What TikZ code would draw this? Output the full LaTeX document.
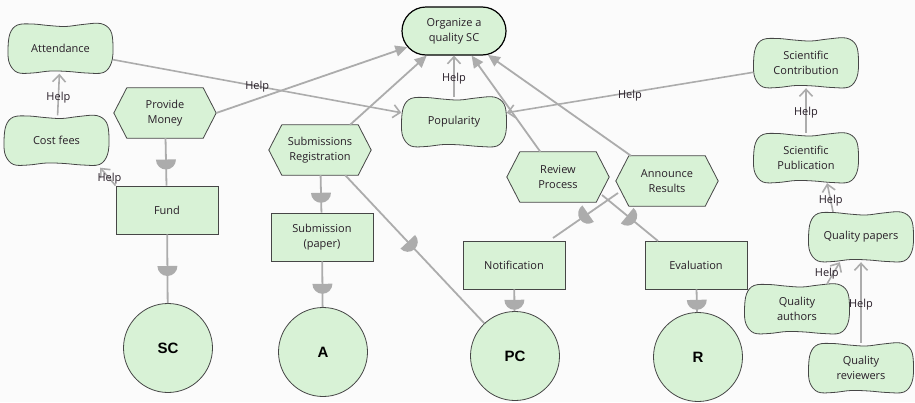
\documentclass[tikz,border=0pt]{standalone}
\usepackage{fontspec}
\setmainfont{Open Sans}
\newfontfamily\actorfont{Liberation Sans}
\usetikzlibrary{arrows.meta,shapes.misc,backgrounds,calc,decorations.markings}

\definecolor{leaf}{RGB}{216,242,214}
\definecolor{edgegray}{RGB}{70,70,70}
\definecolor{linkgray}{RGB}{172,172,172}
\definecolor{ink}{RGB}{40,30,40}
\definecolor{paper}{RGB}{251,251,251}

\tikzset{
  lbl/.style={text=ink, font=\fontsize{11}{15}\selectfont, align=center, inner sep=0pt},
  sgline/.style={draw=edgegray, line width=0.8pt, fill=leaf},
  taskline/.style={draw=edgegray, line width=0.8pt, fill=leaf},
  goal/.style={lbl, rounded rectangle, rounded rectangle arc length=180, draw=black,
    line width=1.2pt, fill=leaf, minimum width=104pt, minimum height=48pt},
  res/.style={lbl, rectangle, draw=edgegray, line width=0.8pt, fill=leaf,
    minimum width=102pt, minimum height=48pt},
  actor/.style={circle, draw=edgegray, line width=0.8pt, fill=leaf, minimum size=89pt,
    inner sep=0pt, text=black, font=\actorfont\bfseries\fontsize{15}{18}\selectfont},
  helplink/.style={draw=linkgray, line width=1.6pt, -{Straight Barb[length=7pt,width=13pt]}},
  meanslink/.style={draw=linkgray, line width=1.8pt, -{Triangle[length=12pt,width=11pt]}},
  deplink/.style={draw=linkgray, line width=1.8pt, postaction={decorate},
    decoration={markings, mark=at position #1 with
      {\fill[linkgray] (0pt,10pt) arc[start angle=90, end angle=-90, radius=10pt] -- cycle;}}},
  helplbl/.style={lbl}
}

% softgoal: wavy cloud outline behind a named text node
\newcommand\softgoal[4]{%
  \node[lbl, minimum width=105pt, minimum height=50pt] (#1) at (#2,#3) {#4};
  \begin{scope}[on background layer, shift={(#2,#3)}]
    \draw[sgline] plot[smooth cycle, tension=0.6] coordinates {
      (-52.5,1) (-50.5,-15) (-43,-23.5) (-28,-24.5) (-12,-23) (5,-22) (22,-24)
      (40,-25) (50,-18) (52.5,-3) (51,14) (43,24) (26,24.5) (8,23) (-10,22.5)
      (-28,24.5) (-43,24) (-51,15)};
  \end{scope}}

% task: hexagon pointed to the left and right
\newcommand\taskhex[4]{%
  \node[lbl, minimum width=102pt, minimum height=50pt] (#1) at (#2,#3) {#4};
  \begin{scope}[on background layer]
    \draw[taskline] (#1.west) -- ([xshift=13pt]#1.north west) -- ([xshift=-13pt]#1.north east)
      -- (#1.east) -- ([xshift=-13pt]#1.south east) -- ([xshift=13pt]#1.south west) -- cycle;
  \end{scope}}

\begin{document}
\begin{tikzpicture}[x=1pt, y=-1pt]
\begin{scope}[on background layer]
  \fill[paper] (0,0) rectangle (915,402);
\end{scope}
\useasboundingbox (0,0) rectangle (915,402);

% elements
\softgoal{att}{60.5}{48.5}{Attendance}
\softgoal{cost}{56.5}{140.5}{Cost fees}
\taskhex{pm}{165}{113}{Provide\\Money}
\node[res] (fund) at (167,210) {Fund};
\node[actor] (sc) at (168,348) {SC};
\taskhex{sr}{320}{150}{Submissions\\Registration}
\node[res] (sub) at (322,237) {Submission\\(paper)};
\node[actor] (a) at (323,352) {A};
\node[goal] (org) at (454,31) {Organize a\\quality SC};
\softgoal{pop}{454}{122}{Popularity}
\taskhex{rp}{558}{177}{Review\\Process}
\taskhex{ar}{667}{181}{Announce\\Results}
\node[res] (notif) at (514,265) {Notification};
\node[res] (eval) at (696,265) {Evaluation};
\node[actor] (pc) at (515,356) {PC};
\node[actor] (r) at (698,357) {R};
\softgoal{scon}{806}{63}{Scientific\\Contribution}
\softgoal{spub}{806}{158}{Scientific\\Publication}
\softgoal{qp}{861}{237}{Quality papers}
\softgoal{qa}{797}{309}{Quality\\authors}
\softgoal{qr}{861}{368}{Quality\\reviewers}

% contribution links
\draw[helplink] (cost) -- node[helplbl, pos=.43] (h1) {Help} (att);
\draw[helplink] (fund.north west) -- node[helplbl, pos=.4] (h2) {Help} ($(cost.south east)+(-9,2)$);
\draw[helplink] (att.-12) -- node[helplbl, pos=.5] (h3) {Help} (pop.170);
\draw[helplink] (pop) -- node[helplbl, pos=.45] (h4) {Help} (org);
\draw[helplink] (scon.190) -- node[helplbl, pos=.5, yshift=-3pt] (h5) {Help} (pop.10);
\draw[helplink] (spub) -- node[helplbl, pos=.45] (h6) {Help} (scon);
\draw[helplink] (qp.138) -- node[helplbl, pos=.4] (h7) {Help} (spub.-50);
\draw[helplink] (qa.40) -- node[helplbl, pos=.45, xshift=-6pt] (h8) {Help} (qp.-130);
\draw[helplink] (qr) -- node[helplbl, pos=.47] (h9) {Help} (qp);

% means-end links
\draw[meanslink] (pm.east) -- (org);
\draw[meanslink] (sr.40) -- (org);
\draw[meanslink] (rp.125) -- (org);
\draw[meanslink] (ar.145) -- (org);

% dependencies
\draw[deplink=.45] (pm) -- (fund);
\draw[deplink=.46] (fund) -- (sc);
\draw[deplink=.47] (sr) -- (sub);
\draw[deplink=.49] (sub) -- (a);
\draw[deplink=.45] (sr.-45) -- (pc);
\draw[deplink=.45] ($(rp)+(44,18)$) -- ($(eval)+(-38,-24)$);
\draw[deplink=.46] ($(ar)+(-49,12)$) -- ($(notif)+(39,-27)$);
\draw[deplink=.48] (notif) -- (pc);
\draw[deplink=.46] (eval) -- (r);
\end{tikzpicture}
\end{document}
